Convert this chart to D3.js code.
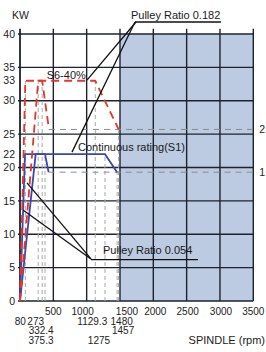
<!DOCTYPE html>
<html lang="en">
<head>
<meta charset="UTF-8">
<title>Spindle power chart</title>
<script src="https://d3js.org/d3.v7.min.js"></script>
<style>
  body { margin: 0; background: #fff; }
  svg { display: block; font-family: "Liberation Sans", Arial, sans-serif; }
  .lbl { font-size: 10.5px; fill: #222; }
  .xl { font-size: 10px; fill: #222; }
  .note { font-size: 11px; fill: #1a1a1a; }
</style>
</head>
<body>
<svg id="chart" width="266" height="352"></svg>
<script>
// grid + tick values
const gridX = [0, 500, 1000, 1500, 2000, 2500, 3000, 3500];
const gridY = [0, 5, 10, 15, 20, 25, 30, 35, 40];
const yTickLabels = [0, 5, 10, 15, 20, 22, 25, 30, 33, 35, 40];
const xTickLabels = [500, 1000, 1500, 2000, 2500, 3000, 3500];
const speedRow2 = [80, 273, 1129.3, 1480];
const speedRow3 = [332.4, 1457];
const speedRow4 = [375.3, 1275];

// S6-40% (red dashed) and continuous S1 (blue) curves, [rpm, kW]
const s6High = [[0, 0], [273, 33], [1129.3, 33], [1480, 25.7]];
const s6Low = [[0, 0], [80, 33], [332.4, 33], [435, 25.7]];
const s1High = [[0, 0], [235, 22], [1275, 22], [1457, 19.3]];
const s1Low = [[0, 0], [75, 22], [375.3, 22], [429, 19.3]];

// grey guide lines
const guideSpeeds = [80, 273, 332.4, 375.3, 1129.3, 1275, 1457, 1480];
const guideTops = [33, 33, 33, 22, 33, 22, 19.3, 25.7];
const refLevels = [25.7, 19.3];
const refStarts = [435, 429];
const refLabels = ["2", "1"];
const shadeFrom = 1500;

// leader lines and notes, in rpm / kW
const leaders = [
  [[1740, 41.8], [1005, 33.1]],
  [[1725, 41.8], [780, 22.3]],
  [[1725, 41.8], [3015, 41.8]],
  [[105, 17.7], [1065, 6.3]],
  [[50, 13.6], [1065, 6.3]],
  [[1065, 6.2], [2670, 6.2]]
];
const notes = [
  { text: "Pulley Ratio 0.182", at: [1665, 42.3] },
  { text: "S6-40%", at: [400, 33.2] },
  { text: "Continuous rating(S1)", at: [870, 22.4] },
  { text: "Pulley Ratio 0.054", at: [1245, 7.0] }
];

// hand placement of crowded speed labels (pixels)
const xLabelNudge = { 80: -5, 273: -2.5, 332.4: -1, 375.3: -4, 1000: -4, 1129.3: -3,
  1275: -6, 1457: 6, 1480: 3, 1500: 7, 2000: 2, 2500: 1, 3000: 1 };

const svg = d3.select('#chart');
const x = d3.scaleLinear().domain([0, 3500]).range([20, 253.3]);
const y = d3.scaleLinear().domain([0, 40]).range([301, 34]);
const line = d3.line().x(d => x(d[0])).y(d => y(d[1]));

// shaded high-speed zone
svg.append('rect')
  .attr('x', x(shadeFrom)).attr('y', y(40))
  .attr('width', x(3500) - x(shadeFrom)).attr('height', y(0) - y(40))
  .attr('fill', '#bccae2');

// grid
svg.append('g').selectAll('line').data(gridY).join('line')
  .attr('x1', x(-30)).attr('x2', x(3500))
  .attr('y1', d => y(d)).attr('y2', d => y(d))
  .attr('stroke', '#1d2230').attr('stroke-width', 1.4);
svg.append('g').selectAll('line').data(gridX).join('line')
  .attr('x1', d => x(d)).attr('x2', d => x(d))
  .attr('y1', y(0)).attr('y2', y(40.8))
  .attr('stroke', '#1d2230').attr('stroke-width', d => d === 0 ? 1.8 : 1.4);

// grey dashed guides
svg.append('g').selectAll('line').data(guideSpeeds).join('line')
  .attr('x1', d => x(d)).attr('x2', d => x(d))
  .attr('y1', y(0)).attr('y2', (d, i) => y(guideTops[i]))
  .attr('stroke', '#a8a8a8').attr('stroke-width', 1).attr('stroke-dasharray', '4,3');
svg.append('g').selectAll('line').data(refLevels).join('line')
  .attr('x1', (d, i) => x(refStarts[i])).attr('x2', x(3500))
  .attr('y1', d => y(d)).attr('y2', d => y(d))
  .attr('stroke', '#8c8c8c').attr('stroke-width', 1).attr('stroke-dasharray', '6,5');
svg.append('g').selectAll('text').data(refLevels).join('text')
  .attr('class', 'lbl')
  .attr('x', x(3500) + 6).attr('y', d => y(d)).attr('dy', '0.35em')
  .text((d, i) => refLabels[i]);

// curves
[s1Low, s1High].forEach(s => {
  svg.append('path').attr('d', line(s))
    .attr('fill', 'none').attr('stroke', '#3a48ad').attr('stroke-width', 1.8);
});
[s6Low, s6High].forEach(s => {
  svg.append('path').attr('d', line(s))
    .attr('fill', 'none').attr('stroke', '#e5352d').attr('stroke-width', 1.8)
    .attr('stroke-dasharray', '8,5');
});

// leaders + notes
svg.append('g').selectAll('path').data(leaders).join('path')
  .attr('d', line).attr('fill', 'none')
  .attr('stroke', '#111').attr('stroke-width', 1.3);
svg.append('g').selectAll('text').data(notes).join('text')
  .attr('class', 'note')
  .attr('x', d => x(d.at[0])).attr('y', d => y(d.at[1]))
  .text(d => d.text);

// y labels
svg.append('g').selectAll('text').data(yTickLabels).join('text')
  .attr('class', 'lbl').attr('text-anchor', 'end')
  .attr('x', 15).attr('y', d => y(d)).attr('dy', '0.35em')
  .text(d => d);
svg.append('text').attr('class', 'lbl').attr('x', 12).attr('y', 19).text('KW');

// x labels in stacked rows
[[xTickLabels, 315], [speedRow2, 324.5], [speedRow3, 334], [speedRow4, 343.5]].forEach(([vals, base]) => {
  svg.append('g').selectAll('text').data(vals).join('text')
    .attr('class', 'xl').attr('text-anchor', 'middle')
    .attr('x', d => x(d) + (xLabelNudge[d] || 0)).attr('y', base)
    .text(d => d);
});
svg.append('text').attr('class', 'note').attr('text-anchor', 'end')
  .attr('x', 265).attr('y', 344).text('SPINDLE (rpm)');
</script>
</body>
</html>
